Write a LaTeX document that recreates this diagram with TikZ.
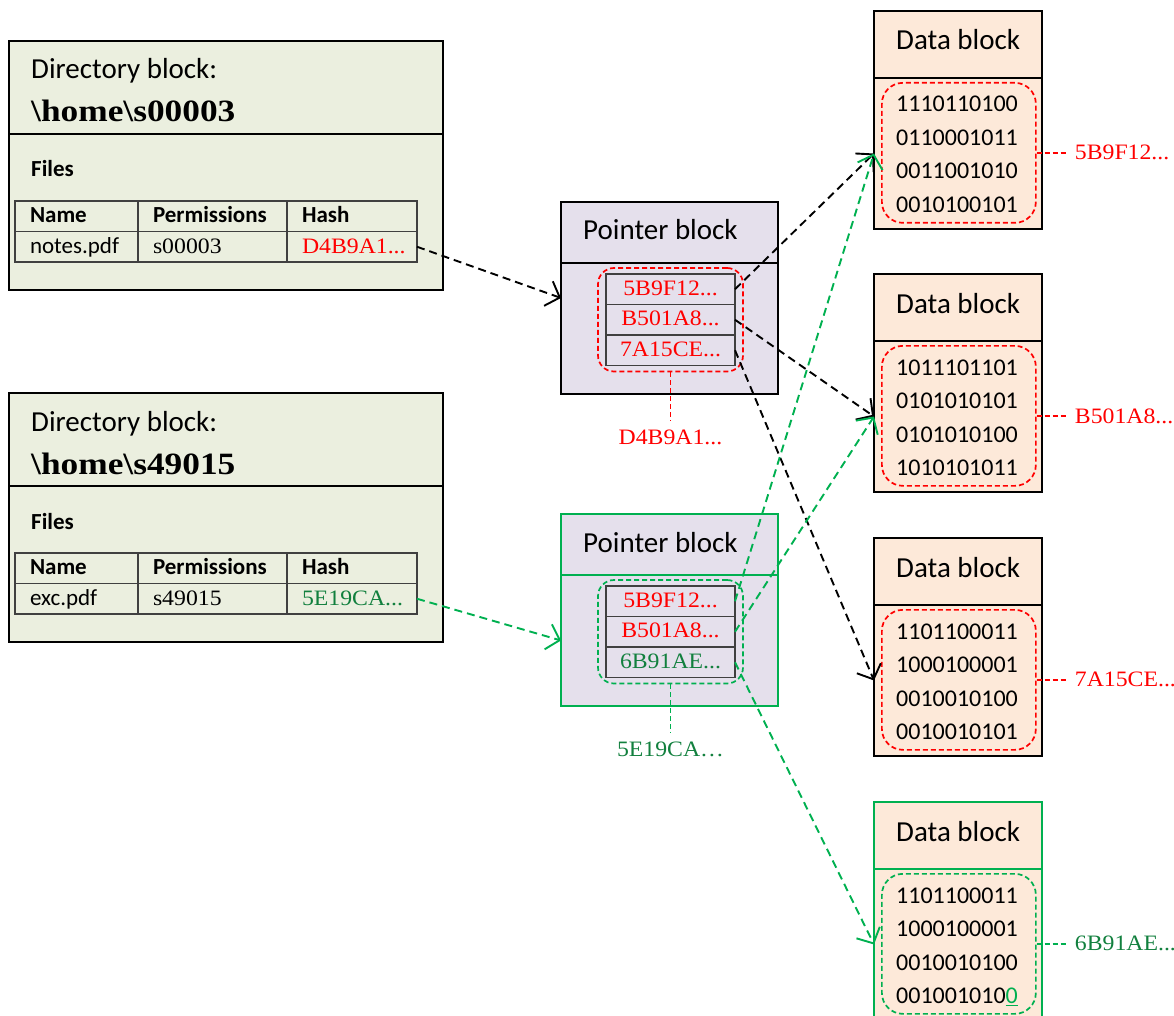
\documentclass[tikz,border=0pt]{standalone}
\usepackage{fontspec}
\setmainfont{Carlito}
\newfontfamily\hashfont[FakeStretch=1.08]{Liberation Serif}
\newfontfamily\pathfont[FakeStretch=1.14]{Liberation Serif}
\usetikzlibrary{arrows.meta,fit,calc}

\definecolor{dirfill}{HTML}{EBEFDF}
\definecolor{ptrfill}{HTML}{E5E0EC}
\definecolor{datfill}{HTML}{FDE9D9}
\definecolor{linkgreen}{HTML}{00B050}
\definecolor{hashgreen}{HTML}{12803E}
\definecolor{hashred}{HTML}{FF0000}
\definecolor{gridgray}{HTML}{404040}

\newcommand\szHead{\fontsize{29pt}{34pt}\selectfont}
\newcommand\szTab{\fontsize{23pt}{27pt}\selectfont}
\newcommand\szBits{\fontsize{24pt}{28pt}\selectfont}
\newcommand\szHash{\hashfont\fontsize{22pt}{26pt}\selectfont}
\newcommand\szPath{\pathfont\bfseries\fontsize{31pt}{36pt}\selectfont}
% truncated hash marker
\newcommand\trail{.\kern0pt.\kern0pt.}

\tikzset{
  box/.style={draw, line width=2.8pt, anchor=north west, inner sep=0pt, outer sep=0pt},
  txt/.style={anchor=base west, inner sep=0pt},
  cell/.style={draw=gridgray, line width=1.2pt, anchor=north west, minimum height=30.5pt,
    inner xsep=15pt, inner ysep=0pt, outer sep=0pt, text height=18pt, text depth=5pt, align=left},
  ptrcell/.style={draw=gridgray, line width=1.2pt, anchor=north west, minimum width=129pt,
    minimum height=30.5pt, inner sep=0pt, outer sep=0pt, text height=16pt, text depth=4pt, font=\szHash},
  grp/.style={dash pattern=on 5pt off 3pt, line width=1.7pt, rounded corners=#1},
  grp/.default=17pt,
  tagline/.style={dash pattern=on 5pt off 3pt, line width=1.8pt},
  link/.style={dash pattern=on 8pt off 5pt, line width=1.9pt,
    -{Straight Barb[length=12pt,width=26pt,line width=1.9pt]}},
}

\begin{document}
\begin{tikzpicture}[x=1pt, y=-1pt]
\useasboundingbox (0,0) rectangle (1174,1016);

% ---------- directory blocks ----------
\foreach \i/\T/\fname/\perm/\hash/\hcol in
  {1/41/notes.pdf/00003/D4B9A1\trail/hashred, 2/393/exc.pdf/49015/5E19CA\trail/hashgreen}{
  \node[box, fill=dirfill, minimum width=434pt, minimum height=93pt] (dir\i head) at (9,\T) {};
  \node[box, fill=dirfill, minimum width=434pt, minimum height=156pt] (dir\i body) at (9,\T+93) {};
  \node[txt, font=\szHead] (dir\i title) at (31,\T+38) {Directory block:};
  \node[txt, font=\szPath] (dir\i path) at (31,\T+81) {\textbackslash home\textbackslash s\perm};
  \node[txt, font=\szTab\bfseries] (dir\i files) at (31,\T+136) {Files};
  \node[cell, text width=93pt, font=\szTab\bfseries] (dir\i nameH) at (15,\T+160) {Name};
  \node[cell, text width=119pt, font=\szTab\bfseries] (dir\i permH) at (dir\i nameH.north east) {Permissions};
  \node[cell, text width=100pt, font=\szTab\bfseries] (dir\i hashH) at (dir\i permH.north east) {Hash};
  \node[cell, text width=93pt, font=\szTab] (dir\i name) at (dir\i nameH.south west) {\fname};
  \node[cell, text width=119pt, font=\szHash] (dir\i perm) at (dir\i name.north east) {s\perm};
  \node[cell, text width=100pt, font=\szHash, text=\hcol] (dir\i hash) at (dir\i perm.north east) {\hash};
}

% ---------- pointer blocks ----------
\foreach \i/\P/\bcol/\gcol/\lastc/\last/\tag/\tcol in
  {1/202/black/hashred/hashred/7A15CE\trail/D4B9A1\trail/hashred,
   2/514/linkgreen/linkgreen/hashgreen/6B91AE\trail/5E19CA…/hashgreen}{
  \node[box, draw=\bcol, fill=ptrfill, minimum width=217pt, minimum height=61pt] (ptr\i head) at (561,\P) {};
  \node[box, draw=\bcol, fill=ptrfill, minimum width=217pt, minimum height=131pt] (ptr\i body) at (561,\P+61) {};
  \node[txt, font=\szHead] (ptr\i title) at (583,\P+38) {Pointer block};
  \node[ptrcell, text=hashred] (ptr\i r1) at (606,\P+72) {5B9F12\trail};
  \node[ptrcell, text=hashred] (ptr\i r2) at (ptr\i r1.south west) {B501A8\trail};
  \node[ptrcell, text=\lastc] (ptr\i r3) at (ptr\i r2.south west) {\last};
  \node[grp=16pt, draw=\gcol, fit=(ptr\i r1)(ptr\i r3), inner xsep=8pt, inner ysep=6pt] (ptr\i grp) {};
  \node[anchor=north, inner xsep=0pt, inner ysep=8pt, font=\szHash, text=\tcol]
    (ptr\i tag) at ([yshift=-49pt]ptr\i grp.south) {\tag};
  \draw[tagline, draw=\gcol] (ptr\i grp.south) -- (ptr\i tag.north);
}

% ---------- data blocks ----------
\foreach \i/\D/\bcol/\gcol/\tcol/\tag/\bA/\bB/\bC/\bD in
  {1/11/black/hashred/hashred/5B9F12\trail/1110110100/0110001011/0011001010/0010100101,
   2/274/black/hashred/hashred/B501A8\trail/1011101101/0101010101/0101010100/1010101011,
   3/538/black/hashred/hashred/7A15CE\trail/1101100011/1000100001/0010010100/0010010101,
   4/802/linkgreen/linkgreen/hashgreen/6B91AE\trail/1101100011/1000100001/0010010100/{001001010{\color{linkgreen}\underline{0}}}}{
  \node[box, draw=\bcol, fill=datfill, minimum width=168pt, minimum height=67pt] (dat\i head) at (874,\D) {};
  \node[box, draw=\bcol, fill=datfill, minimum width=168pt, minimum height=151pt] (dat\i body) at (874,\D+67) {};
  \node[txt, font=\szHead] (dat\i title) at (896,\D+39) {Data block};
  \node[txt, font=\szBits] (dat\i bitsA) at (896,\D+101) {\bA};
  \node[txt, font=\szBits] (dat\i bitsB) at (896,\D+134.5) {\bB};
  \node[txt, font=\szBits] (dat\i bitsC) at (896,\D+168) {\bC};
  \node[txt, font=\szBits] (dat\i bitsD) at (896,\D+201.5) {\bD};
  \node[grp=21pt, draw=\gcol, anchor=north west, minimum width=154pt, minimum height=140pt, inner sep=0pt]
    (dat\i grp) at (881,\D+71) {};
  \node[anchor=west, inner xsep=8pt, inner ysep=0pt, font=\szHash, text=\tcol]
    (dat\i tag) at ([xshift=30pt]dat\i grp.east) {\tag};
  \draw[tagline, draw=\gcol] (dat\i grp.east) -- (dat\i tag.west);
}

% ---------- links ----------
\draw[link] (dir1hash.east) -- ($(ptr1head.north west)!0.5!(ptr1body.south west)$);
\draw[link] (ptr1r1.east) -- (dat1body.west);
\draw[link] (ptr1r2.east) -- (dat2body.west);
\draw[link] (ptr1r3.east) -- (dat3body.west);

\draw[link, draw=linkgreen] (dir2hash.east) -- (ptr2body.west);
\draw[link, draw=linkgreen] (ptr2r1.east) -- (dat1body.west);
\draw[link, draw=linkgreen] (ptr2r2.east) -- (dat2body.west);
\draw[link, draw=linkgreen] (ptr2r3.east) -- (dat4body.west);
\end{tikzpicture}
\end{document}
